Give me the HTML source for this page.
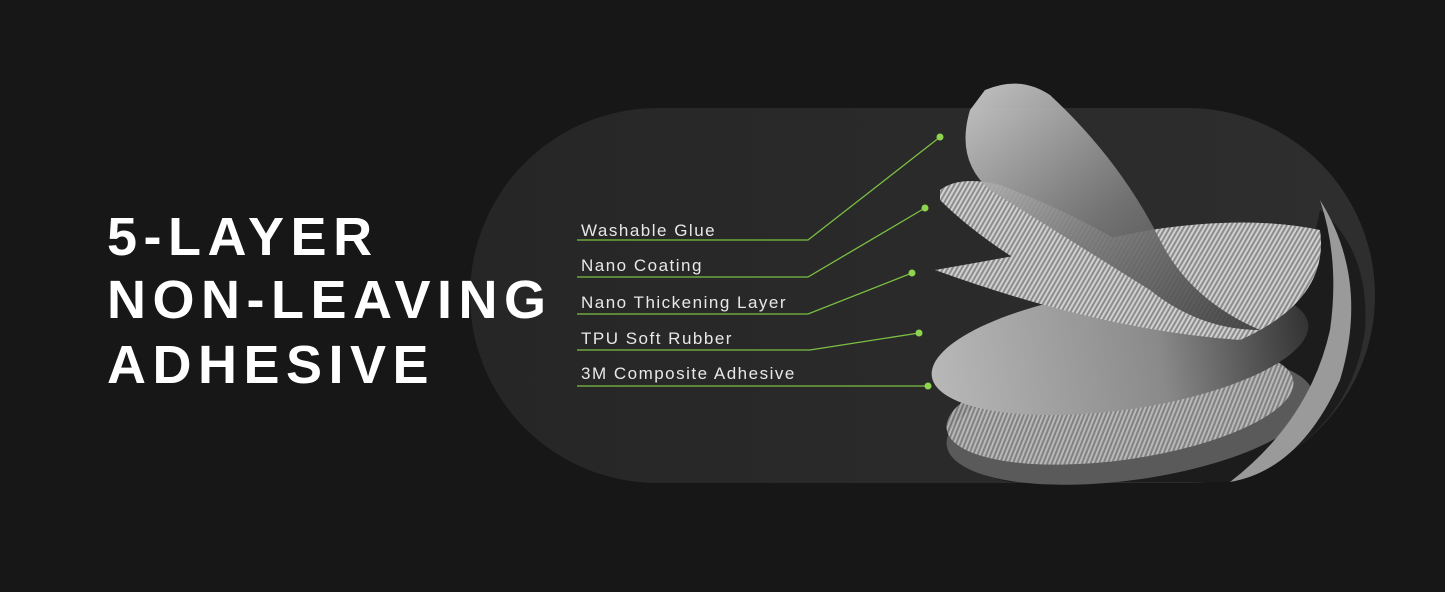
<!DOCTYPE html>
<html><head><style>
html,body{margin:0;padding:0;background:#171717;width:1445px;height:592px;overflow:hidden;font-family:"Liberation Sans",sans-serif}
.t{position:absolute;left:107px;color:#fff;font-weight:bold;font-size:54px;letter-spacing:6.5px;line-height:1}
.l{position:absolute;left:581px;color:#e8e8e8;font-size:17px;letter-spacing:1.5px}
</style></head><body>
<svg width="1445" height="592" style="position:absolute;left:0;top:0">
<defs>
<linearGradient id="pill" x1="0" y1="0" x2="1" y2="0"><stop offset="0" stop-color="#262626"/><stop offset="1" stop-color="#2e2e2e"/></linearGradient>
<linearGradient id="g1" x1="0" y1="0" x2="1" y2="1"><stop offset="0" stop-color="#d5d5d5"/><stop offset="0.5" stop-color="#7a7a7a"/><stop offset="1" stop-color="#3a3a3a"/></linearGradient>
<linearGradient id="g2" x1="0" y1="0" x2="1" y2="0"><stop offset="0" stop-color="#b8b8b8"/><stop offset="0.6" stop-color="#8a8a8a"/><stop offset="1" stop-color="#333"/></linearGradient>
<pattern id="mesh" width="4" height="4" patternUnits="userSpaceOnUse" patternTransform="rotate(30)"><rect width="4" height="4" fill="#8c8c8c"/><rect width="2" height="4" fill="#d0d0d0"/></pattern>
</defs>
<rect x="470" y="108" width="905" height="375" rx="187.5" fill="url(#pill)"/>
<path d="M960 400 Q940 470 1010 482 L1230 482 Q1350 440 1365 330 Q1370 250 1320 210 Q1300 320 1200 400 Z" fill="#1c1c1c"/>
<ellipse cx="1130" cy="420" rx="185" ry="60" fill="#5a5a5a" transform="rotate(-8 1130 420)"/>
<ellipse cx="1120" cy="405" rx="175" ry="55" fill="url(#mesh)" opacity="0.8" transform="rotate(-8 1120 405)"/>
<ellipse cx="1120" cy="350" rx="190" ry="60" fill="url(#g2)" transform="rotate(-8 1120 350)"/>
<path d="M1320 200 Q1370 280 1340 380 Q1300 470 1230 482 Q1310 420 1330 330 Q1340 260 1320 200Z" fill="#9a9a9a"/>
<path d="M935 270 Q1050 250 1150 230 Q1250 215 1320 230 Q1330 300 1240 340 Q1100 330 935 270Z" fill="url(#mesh)"/>
<path d="M940 190 Q960 175 1000 185 Q1080 215 1150 260 Q1100 290 1050 280 Q980 240 940 200Z" fill="url(#mesh)"/>
<path d="M985 90 Q1020 75 1050 95 Q1120 160 1160 240 Q1190 300 1260 330 Q1200 330 1150 290 Q1070 240 990 190 Q955 160 970 110Z" fill="url(#g1)" opacity="0.9"/>
<g stroke="#7bc043" stroke-width="1.3" fill="none">
<polyline points="577,240 808,240 940,137"/>
<polyline points="577,277 808,277 925,208"/>
<polyline points="577,314 808,314 912,273"/>
<polyline points="577,350 810,350 919,333"/>
<polyline points="577,386 928,386"/>
</g>
<g fill="#8ed44f">
<circle cx="940" cy="137" r="3.5"/><circle cx="925" cy="208" r="3.5"/><circle cx="912" cy="273" r="3.5"/><circle cx="919" cy="333" r="3.5"/><circle cx="928" cy="386" r="3.5"/>
</g>
</svg>
<div class="t" style="top:210px">5-LAYER</div>
<div class="t" style="top:273px">NON-LEAVING</div>
<div class="t" style="top:338px">ADHESIVE</div>
<div class="l" style="top:221px">Washable Glue</div>
<div class="l" style="top:256px">Nano Coating</div>
<div class="l" style="top:293px">Nano Thickening Layer</div>
<div class="l" style="top:329px">TPU Soft Rubber</div>
<div class="l" style="top:364px">3M Composite Adhesive</div>
</body></html>
